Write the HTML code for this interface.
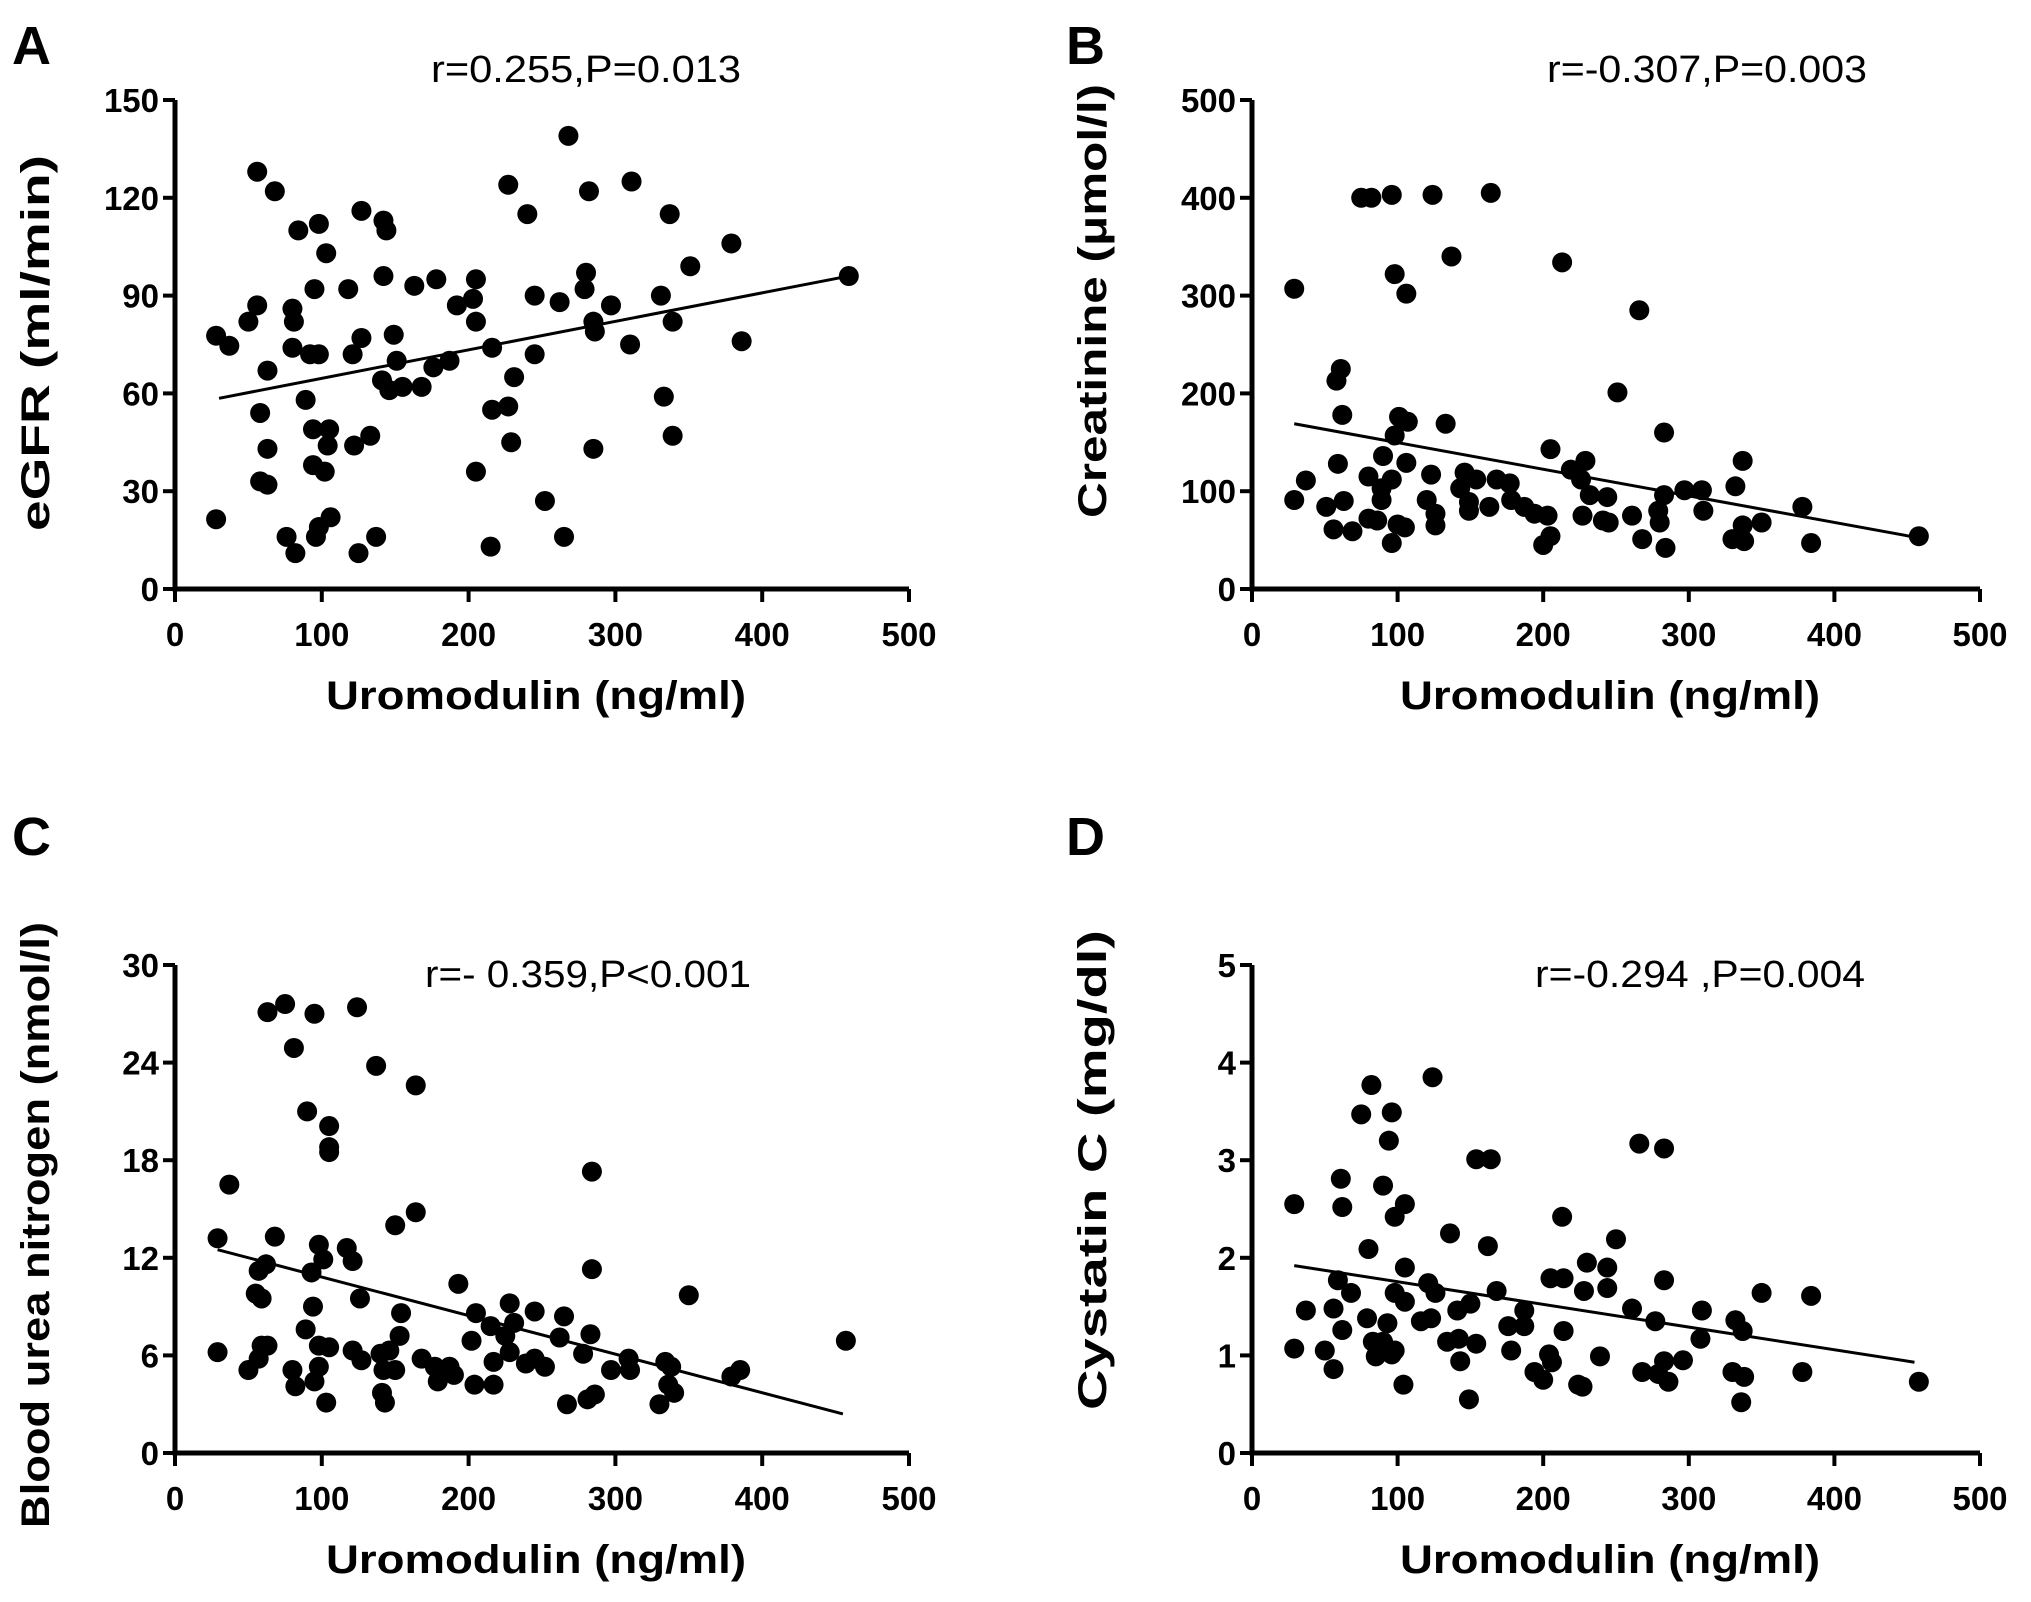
<!DOCTYPE html>
<html><head><meta charset="utf-8">
<style>
html,body{margin:0;padding:0;background:#fff;}
svg{display:block;}
text{font-family:"Liberation Sans",Arial,sans-serif;fill:#000;}
</style></head>
<body>
<svg id="fig" width="2031" height="1602" viewBox="0 0 2031 1602" xmlns="http://www.w3.org/2000/svg"></svg>
<script>
// ---- data ----
const xTicks = [0,100,200,300,400,500];
const aYTicks = [0,30,60,90,120,150];
const bYTicks = [0,100,200,300,400,500];
const cYTicks = [0,6,12,18,24,30];
const dYTicks = [0,1,2,3,4,5];

const aX = [28,37,28,50,56,56,68,63,58,63,58,63,80,81,80,84,89,92,98,95,98,103,94,105,104,94,102,106,98,96,76,82,118,121,127,127,122,133,125,137,142,144,142,149,141,146,151,155,168,163,178,176,187,192,203,205,205,216,216,227,231,229,205,215,227,240,245,245,252,262,268,265,279,280,282,285,286,285,297,311,310,331,333,337,339,339,351,379,386,459];
const aY = [77.7,74.6,21.4,82,87,128,122,67,54,43,33,32,86,82,74,110,58,72,72,92,112,103,49,49,44,38,36,22,19,16,16,11,92,72,77,116,44,47,11,16,113,110,96,78,64,61,70,62,62,93,95,68,70,87,89,95,82,74,55,56,65,45,36,13,124,115,90,72,27,88,139,16,92,97,122,82,79,43,87,125,75,90,59,115,82,47,99,106,76,96];
const aFit = [[30,58.5],[459,96]];

const bX = [29,29,37,58,61,59,62,51,56,63,69,75,82,96,124,164,137,213,266,98,106,251,80,89,90,89,80,86,96,96,100,105,98,101,107,106,123,120,126,126,133,143,146,149,149,154,168,163,177,178,187,194,203,200,205,205,219,226,229,227,232,244,241,245,261,268,279,280,283,283,284,297,309,310,332,330,337,337,338,350,378,384,458];
const bY = [307,91,111,213,225,128,178,84,61,90,59,400,400,403,403,405,340,334,285,322,302,201,115,103,136,91,72,70,112,47,66,63,157,176,171,129,117,91,77,65,169,103,119,89,80,112,112,84,108,91,84,77,75,45,54,143,122,112,131,75,96,94,70,68,75,51,80,68,96,160,42,101,101,80,105,51,131,65,49,68,84,47,54];
const bFit = [[29,169],[459,52]];

const cX = [29,29,37,50,57,59,63,55,59,57,62,68,63,75,95,81,90,124,137,164,105,105,105,93,98,101,94,89,98,105,98,80,82,95,103,117,121,126,121,127,140,146,142,150,141,143,153,154,150,164,168,177,179,187,190,193,202,205,204,215,217,217,228,231,225,228,239,245,245,252,265,262,267,278,283,284,284,281,286,297,309,310,330,334,338,336,340,350,379,385,457];
const cY = [6.2,13.2,16.5,5.1,5.8,6.6,6.6,9.8,9.5,11.2,11.6,13.3,27.1,27.6,27.0,24.9,21.0,27.4,23.8,22.6,20.1,18.8,18.5,11.1,12.8,11.9,9.0,7.6,6.6,6.5,5.3,5.1,4.1,4.4,3.1,12.6,11.8,9.5,6.3,5.7,6.1,6.3,5.1,5.1,3.7,3.1,7.2,8.6,14.0,14.8,5.8,5.3,4.4,5.3,4.8,10.4,6.9,8.6,4.2,7.8,5.6,4.2,9.2,8.0,7.2,6.2,5.5,8.7,5.8,5.3,8.4,7.1,3.0,6.1,7.3,17.3,11.3,3.3,3.6,5.1,5.8,5.1,3.0,5.6,5.3,4.2,3.7,9.7,4.7,5.1,6.9];
const cFit = [[29,12.5],[455,2.4]];

const dX = [29,29,37,50,56,56,59,61,62,62,68,75,82,96,94,90,98,105,80,79,83,85,90,93,96,98,98,105,105,104,116,121,123,126,124,136,134,141,142,143,149,150,154,154,164,162,168,178,176,187,187,194,200,204,206,205,213,214,214,224,227,228,230,239,244,244,250,261,266,268,283,283,277,279,283,286,296,309,308,332,330,337,338,336,350,378,384,458];
const dY = [2.55,1.07,1.46,1.05,0.86,1.48,1.77,2.81,2.52,1.26,1.64,3.47,3.77,3.49,3.20,2.74,2.42,2.55,2.09,1.38,1.14,0.99,1.14,1.33,1.01,1.05,1.64,1.90,1.55,0.70,1.35,1.74,1.38,1.64,3.85,2.25,1.14,1.46,1.17,0.94,0.55,1.53,1.12,3.01,3.01,2.12,1.66,1.05,1.30,1.46,1.30,0.83,0.75,1.01,0.93,1.79,2.42,1.79,1.25,0.70,0.68,1.66,1.95,0.99,1.90,1.69,2.19,1.48,3.17,0.83,3.12,1.77,1.35,0.81,0.94,0.73,0.95,1.46,1.17,1.36,0.83,1.25,0.78,0.52,1.64,0.83,1.61,0.73];
const dFit = [[29,1.92],[455,0.93]];

const NS = "http://www.w3.org/2000/svg";
const svg = document.getElementById('fig');
function mk(tag, attrs, parent){
  const e = document.createElementNS(NS, tag);
  for (const k in attrs) e.setAttribute(k, attrs[k]);
  (parent||svg).appendChild(e);
  return e;
}

function panel(cfg){
  const g = mk('g', {});
  
  
  const yMax = cfg.yTicks[cfg.yTicks.length-1];
  const sx = v => cfg.x0 + (v/500)*(cfg.x1-cfg.x0);
  const sy = v => cfg.yb - (v/yMax)*(cfg.yb-cfg.yt);

  const L = mk('text', {x: cfg.lx, y: cfg.ly, 'font-size': 54, 'font-weight': 'bold'}, g);
  L.textContent = cfg.letter;
  
  

  const T = mk('text', {x: cfg.tx, y: cfg.ty, 'font-size': 38, 'text-anchor': 'middle', textLength: cfg.tw, lengthAdjust: 'spacingAndGlyphs'}, g);
  T.textContent = cfg.title;
  
  

  const ax = mk('path', {d: `M${cfg.x0},${cfg.yt} V${cfg.yb} H${cfg.x1}`, stroke: '#000', 'stroke-width': 5, fill: 'none'}, g);
  
  

  cfg.yTicks.forEach(v => {
    const y = sy(v);
    const t = mk('line', {x1: cfg.x0-12, x2: cfg.x0, y1: y, y2: y, stroke: '#000', 'stroke-width': 4}, g);
    
    
    const lb = mk('text', {x: cfg.x0-16, y: y+12, 'font-size': 33, 'font-weight': 'bold', 'text-anchor': 'end'}, g);
    lb.textContent = v;
    
    
  });
  xTicks.forEach(v => {
    const x = sx(v);
    const t = mk('line', {x1: x, x2: x, y1: cfg.yb, y2: cfg.yb+13, stroke: '#000', 'stroke-width': 4}, g);
    
    
    const lb = mk('text', {x: x, y: cfg.yb+57, 'font-size': 33, 'font-weight': 'bold', 'text-anchor': 'middle'}, g);
    lb.textContent = v;
    
    
  });

  const xt = mk('text', {x: (cfg.x0+cfg.x1)/2 - 6, y: cfg.yb+120, 'font-size': 40, 'font-weight': 'bold', 'text-anchor': 'middle', textLength: 420, lengthAdjust: 'spacingAndGlyphs'}, g);
  xt.textContent = 'Uromodulin (ng/ml)';
  
  

  const yt = mk('text', {x: 0, y: 0, 'font-size': 40, 'font-weight': 'bold', 'text-anchor': 'middle', textLength: cfg.yw, lengthAdjust: 'spacingAndGlyphs', transform: `translate(${cfg.yx},${cfg.yc}) rotate(-90)`}, g);
  yt.textContent = cfg.ytitle;
  
  

  cfg.xs.forEach((xv, i) => {
    const c = mk('circle', {cx: sx(xv), cy: sy(cfg.ys[i]), r: 10, fill: '#000'}, g);
    
    
  });

  const f = cfg.fit;
  const ln = mk('line', {x1: sx(f[0][0]), y1: sy(f[0][1]), x2: sx(f[1][0]), y2: sy(f[1][1]), stroke: '#000', 'stroke-width': 3}, g);
  
  
}

panel({key:'a', letter:'A', lx:12, ly:64, title:'r=0.255,P=0.013', tx:586, ty:82, tw:310,
  x0:175, x1:909, yb:589, yt:100, yTicks:aYTicks, xs:aX, ys:aY, fit:aFit,
  ytitle:'eGFR (ml/min)', yx:49, yc:343, yw:376});
panel({key:'b', letter:'B', lx:1066, ly:64, title:'r=-0.307,P=0.003', tx:1707, ty:82, tw:320,
  x0:1252, x1:1980, yb:589, yt:100, yTicks:bYTicks, xs:bX, ys:bY, fit:bFit,
  ytitle:'Creatinine (\u03bcmol/l)', yx:1106, yc:301, yw:434});
panel({key:'c', letter:'C', lx:12, ly:855, title:'r=- 0.359,P<0.001', tx:588, ty:987, tw:326,
  x0:175, x1:909, yb:1453, yt:965, yTicks:cYTicks, xs:cX, ys:cY, fit:cFit,
  ytitle:'Blood urea nitrogen (nmol/l)', yx:49, yc:1225, yw:606});
panel({key:'d', letter:'D', lx:1066, ly:855, title:'r=-0.294 ,P=0.004', tx:1700, ty:987, tw:330,
  x0:1252, x1:1980, yb:1453, yt:965, yTicks:dYTicks, xs:dX, ys:dY, fit:dFit,
  ytitle:'Cystatin C (mg/dl)', yx:1106, yc:1170, yw:480});
</script>
</body></html>
